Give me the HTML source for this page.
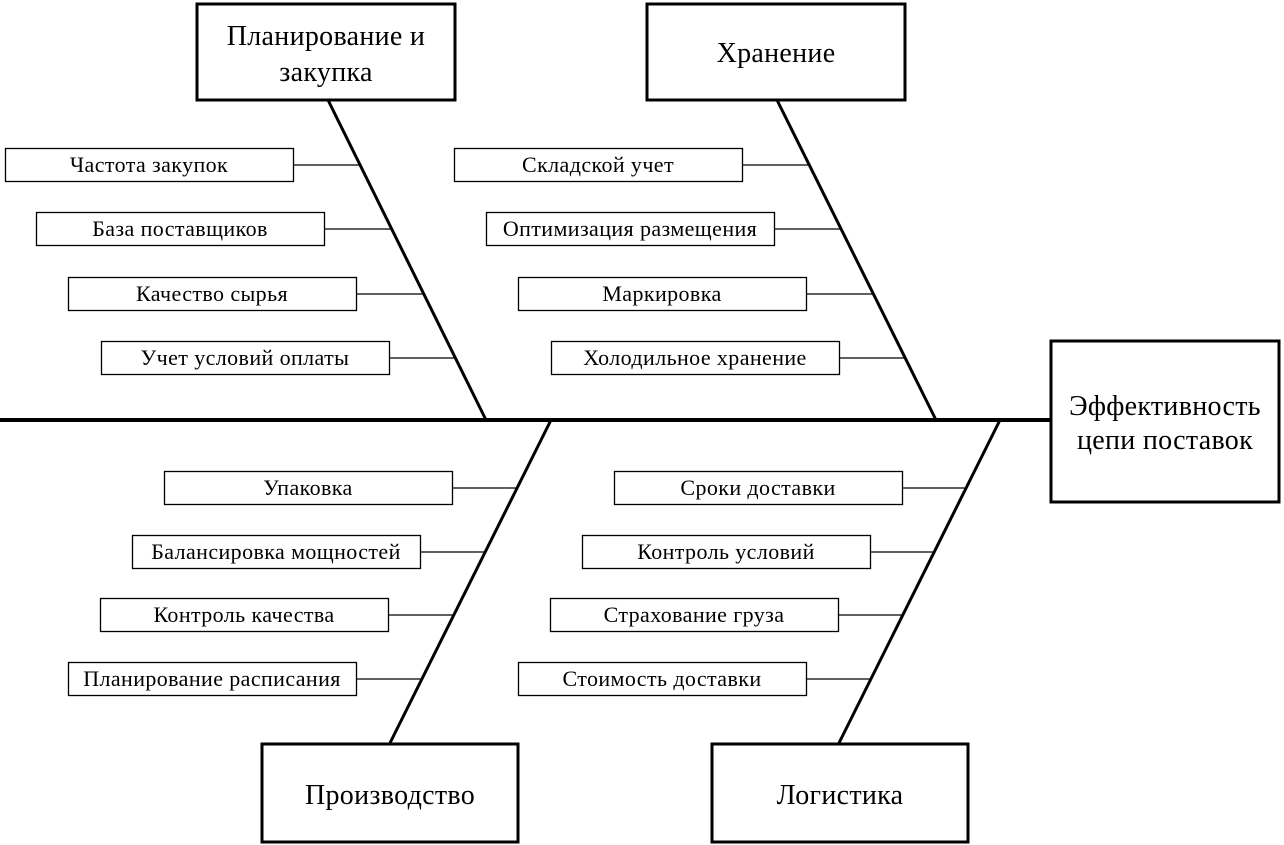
<!DOCTYPE html>
<html><head><meta charset="utf-8"><style>
html,body{margin:0;padding:0;background:#fff;}
svg{display:block;}
text{font-family:"Liberation Serif",serif;fill:#000;}
.s{font-size:22px;letter-spacing:0.4px;}
.b{font-size:28px;letter-spacing:0.3px;}
</style></head><body>
<svg width="1284" height="845" viewBox="0 0 1284 845" xmlns="http://www.w3.org/2000/svg">
<g stroke="#000" fill="none">
<line x1="0" y1="420" x2="1051" y2="420" stroke-width="4"/>
<line x1="328" y1="100" x2="486" y2="420" stroke-width="3"/>
<line x1="777" y1="100" x2="936" y2="420" stroke-width="3"/>
<line x1="551" y1="420" x2="390" y2="743" stroke-width="3"/>
<line x1="1000" y1="420" x2="839" y2="743" stroke-width="3"/>
<rect x="197" y="4" width="258" height="96" stroke-width="3" fill="#fff"/>
<rect x="647" y="4" width="258" height="96" stroke-width="3" fill="#fff"/>
<rect x="262" y="744" width="256" height="98" stroke-width="3" fill="#fff"/>
<rect x="712" y="744" width="256" height="98" stroke-width="3" fill="#fff"/>
<rect x="1051" y="341" width="228" height="161" stroke-width="3" fill="#fff"/>
<g stroke-width="1.3">
<rect x="5.5" y="148.5" width="288" height="33"/><line x1="293" y1="165" x2="360" y2="165"/>
<rect x="36.5" y="212.5" width="288" height="33"/><line x1="325" y1="229" x2="392" y2="229"/>
<rect x="68.5" y="277.5" width="288" height="33"/><line x1="357" y1="294" x2="424" y2="294"/>
<rect x="101.5" y="341.5" width="288" height="33"/><line x1="390" y1="358" x2="456" y2="358"/>
<rect x="454.5" y="148.5" width="288" height="33"/><line x1="743" y1="165" x2="809" y2="165"/>
<rect x="486.5" y="212.5" width="288" height="33"/><line x1="775" y1="229" x2="841" y2="229"/>
<rect x="518.5" y="277.5" width="288" height="33"/><line x1="807" y1="294" x2="874" y2="294"/>
<rect x="551.5" y="341.5" width="288" height="33"/><line x1="840" y1="358" x2="906" y2="358"/>
<rect x="164.5" y="471.5" width="288" height="33"/><line x1="453" y1="488" x2="518" y2="488"/>
<rect x="132.5" y="535.5" width="288" height="33"/><line x1="421" y1="552" x2="486" y2="552"/>
<rect x="100.5" y="598.5" width="288" height="33"/><line x1="389" y1="615" x2="454" y2="615"/>
<rect x="68.5" y="662.5" width="288" height="33"/><line x1="357" y1="679" x2="422" y2="679"/>
<rect x="614.5" y="471.5" width="288" height="33"/><line x1="903" y1="488" x2="967" y2="488"/>
<rect x="582.5" y="535.5" width="288" height="33"/><line x1="871" y1="552" x2="935" y2="552"/>
<rect x="550.5" y="598.5" width="288" height="33"/><line x1="839" y1="615" x2="904" y2="615"/>
<rect x="518.5" y="662.5" width="288" height="33"/><line x1="807" y1="679" x2="872" y2="679"/>
</g>
</g>
<g text-anchor="middle">
<text class="b" x="326" y="45">Планирование и</text>
<text class="b" x="326" y="81">закупка</text>
<text class="b" x="776" y="62">Хранение</text>
<text class="b" x="390" y="804">Производство</text>
<text class="b" x="840" y="804">Логистика</text>
<text class="b" x="1165" y="415">Эффективность</text>
<text class="b" x="1165" y="449">цепи поставок</text>
<text class="s" x="149" y="172">Частота закупок</text>
<text class="s" x="180" y="236">База поставщиков</text>
<text class="s" x="212" y="301">Качество сырья</text>
<text class="s" x="245" y="365">Учет условий оплаты</text>
<text class="s" x="598" y="172">Складской учет</text>
<text class="s" x="630" y="236">Оптимизация размещения</text>
<text class="s" x="662" y="301">Маркировка</text>
<text class="s" x="695" y="365">Холодильное хранение</text>
<text class="s" x="308" y="495">Упаковка</text>
<text class="s" x="276" y="559">Балансировка мощностей</text>
<text class="s" x="244" y="622">Контроль качества</text>
<text class="s" x="212" y="686">Планирование расписания</text>
<text class="s" x="758" y="495">Сроки доставки</text>
<text class="s" x="726" y="559">Контроль условий</text>
<text class="s" x="694" y="622">Страхование груза</text>
<text class="s" x="662" y="686">Стоимость доставки</text>
</g>
</svg>
</body></html>
